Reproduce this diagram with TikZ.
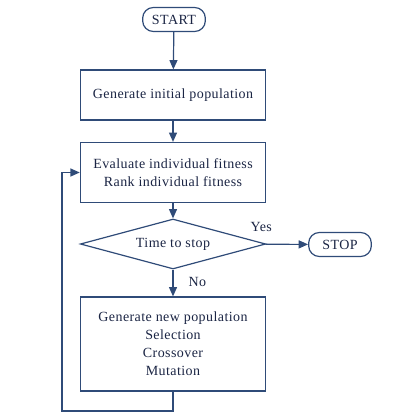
\documentclass[tikz,border=0pt]{standalone}
\usepackage{fontspec}
\setmainfont{Liberation Serif}[LetterSpace=3]
\usepackage{tikz}
\usetikzlibrary{arrows.meta,shapes.geometric}

\definecolor{flowline}{HTML}{2F4B78}
\definecolor{flowtext}{HTML}{1B2544}

\tikzset{
    procbox/.style={draw=flowline, line width=0.9pt, rectangle, minimum width=139pt,
        text=flowtext, font=\fontsize{10.5}{13.5}\selectfont, align=center},
    termbox/.style={draw=flowline, line width=0.9pt, rectangle, rounded corners=8pt,
        minimum width=47pt, minimum height=18pt, text=flowtext,
        font=\fontsize{10.5}{13.5}\selectfont, inner sep=1pt},
    decbox/.style={draw=flowline, line width=0.9pt, diamond, aspect=3.7,
        minimum width=139pt, minimum height=37.5pt, inner sep=0pt, text=flowtext,
        font=\fontsize{10.5}{13.5}\selectfont},
    flow/.style={draw=flowline, line width=0.9pt, -{Triangle[width=6pt,length=7pt]}},
    lbl/.style={text=flowtext, font=\fontsize{10.5}{13.5}\selectfont}
}

\begin{document}
\begin{tikzpicture}[x=0.75pt,y=-0.75pt]
            \useasboundingbox (0,0) rectangle (400,417);

            \node[termbox] (start) at (174,19.5) {START};
            \node[procbox, minimum height=37.5pt] (init) at (173,95) {Generate initial population};
            \node[procbox, minimum height=45pt] (eval) at (173,172.5)
                {Evaluate individual fitness\\Rank individual fitness};
            \node[decbox] (stopq) at (173,244) {Time to stop};
            \node[termbox] (stop) at (340,244.5) {STOP};
            \node[procbox, minimum height=70.5pt] (newpop) at (173,344)
                {Generate new population\\Selection\\Crossover\\Mutation};

            \coordinate (loopa) at (173,411);
            \coordinate (loopb) at (62,411);
            \coordinate (loopc) at (62,172.5);

            \draw[flow] (start) -- (init);
            \draw[flow] (init) -- (eval);
            \draw[flow] (eval) -- (stopq);
            \draw[flow] (stopq) -- node[lbl, above=6pt, pos=0, xshift=-3pt] {Yes} (stop);
            \draw[flow] (stopq) -- node[lbl, right, pos=0.45, xshift=8pt] {No} (newpop);

            % loop back
            \draw[flow] (newpop.south) -- (loopa) -- (loopb) -- (loopc) -- (eval.west);
        \end{tikzpicture}
\end{document}
